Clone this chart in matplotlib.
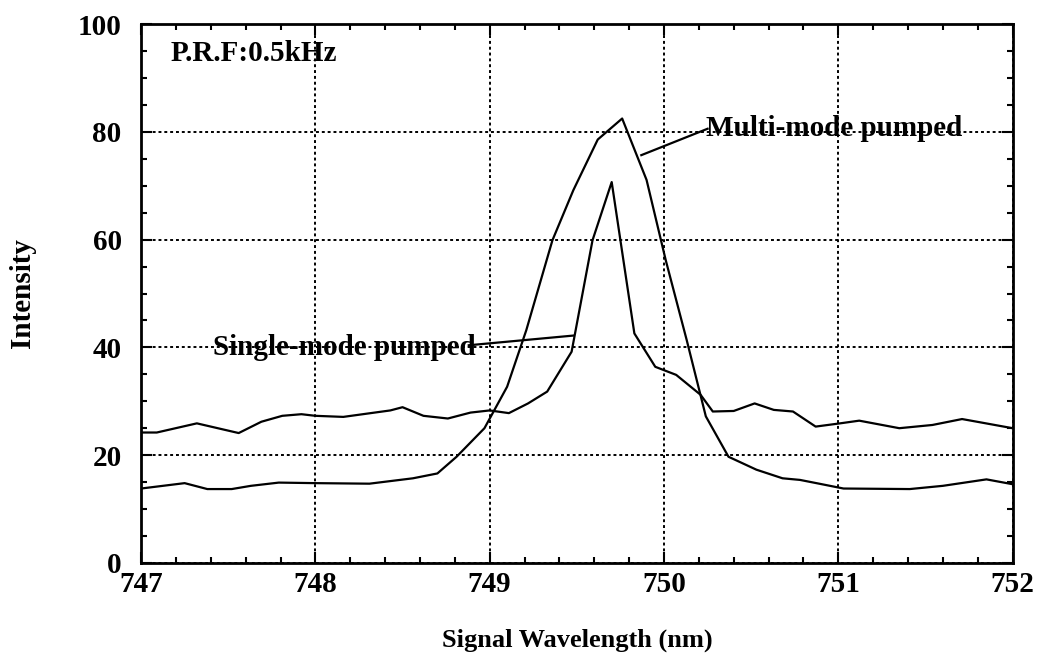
import matplotlib
matplotlib.use("Agg")
import matplotlib.pyplot as plt
from matplotlib.ticker import MultipleLocator

# Single-mode pumped: narrow peak, higher background
single_x = [747.0, 747.09, 747.32, 747.56, 747.69, 747.81, 747.92, 748.0, 748.16,
            748.43, 748.50, 748.62, 748.76, 748.89, 749.0, 749.11, 749.22, 749.33,
            749.47, 749.59, 749.70, 749.83, 749.95, 750.07, 750.21, 750.28, 750.40,
            750.52, 750.63, 750.74, 750.87, 751.01, 751.12, 751.35, 751.54, 751.71,
            751.83, 752.0]
single_y = [24.2, 24.2, 25.9, 24.1, 26.2, 27.3, 27.6, 27.3, 27.1,
            28.3, 28.9, 27.3, 26.8, 27.9, 28.3, 27.8, 29.6, 31.8,
            39.2, 59.9, 70.7, 42.6, 36.4, 34.9, 31.2, 28.1, 28.2,
            29.6, 28.4, 28.1, 25.3, 25.9, 26.4, 25.0, 25.6, 26.7,
            26.0, 25.0]

# Multi-mode pumped: broad peak, lower background
multi_x = [747.0, 747.10, 747.25, 747.38, 747.52, 747.63, 747.79, 748.0, 748.31,
           748.56, 748.70, 748.81, 748.97, 749.10, 749.21, 749.36, 749.48, 749.62,
           749.76, 749.90, 750.01, 750.13, 750.24, 750.37, 750.53, 750.68, 750.78,
           750.89, 751.03, 751.41, 751.60, 751.85, 752.0]
multi_y = [13.8, 14.2, 14.8, 13.7, 13.7, 14.3, 14.9, 14.8, 14.7,
           15.7, 16.6, 19.7, 25.0, 32.7, 43.2, 59.9, 69.2, 78.6,
           82.5, 71.1, 56.2, 41.4, 27.2, 19.7, 17.3, 15.7, 15.4,
           14.7, 13.8, 13.7, 14.3, 15.5, 14.6]

x_ticks = [747, 748, 749, 750, 751, 752]
y_ticks = [0, 20, 40, 60, 80, 100]

plt.rcParams["font.family"] = ["Liberation Serif", "DejaVu Serif"]
plt.rcParams["font.weight"] = "bold"
FS = 21

fig = plt.figure(figsize=(10.45, 6.56), dpi=100)
ax = fig.add_axes([0.135, 0.142, 0.834, 0.821])

ax.plot(single_x, single_y, color="black", lw=1.6)
ax.plot(multi_x, multi_y, color="black", lw=1.6)

ax.set_xlim(747, 752)
ax.set_ylim(0, 100)
ax.set_xticks(x_ticks)
ax.set_yticks(y_ticks)
ax.xaxis.set_minor_locator(MultipleLocator(0.2))
ax.yaxis.set_minor_locator(MultipleLocator(5))
ax.tick_params(which="both", direction="in", top=True, right=True,
               labelsize=FS, width=1.5)
ax.tick_params(which="major", length=8)
ax.tick_params(which="minor", length=4)
ax.tick_params(axis="y", which="major", pad=14)
ax.tick_params(axis="x", which="major", pad=6)
for lab in ax.get_xticklabels() + ax.get_yticklabels():
    lab.set_fontweight("bold")
for sp in ax.spines.values():
    sp.set_linewidth(2)

ax.grid(True, which="major", color="black", linestyle=(0, (1.5, 1.5)), lw=1.4)

ax.set_xlabel("Signal Wavelength (nm)", fontsize=19, fontweight="bold", labelpad=22)
ax.set_ylabel("Intensity", fontsize=FS, fontweight="bold", labelpad=30)

ax.text(747.17, 94.5, "P.R.F:0.5kHz", fontsize=FS, fontweight="bold",
        va="center", ha="left")

ax.plot([749.87, 750.25], [75.7, 80.6], color="black", lw=1.6)
ax.text(750.24, 80.6, "Multi-mode pumped", fontsize=FS, fontweight="bold",
        va="center", ha="left")

ax.plot([748.88, 749.48], [40.4, 42.2], color="black", lw=1.6)
ax.text(748.92, 40.0, "Single-mode pumped", fontsize=FS, fontweight="bold",
        va="center", ha="right")

fig.savefig("out.png", dpi=100)
